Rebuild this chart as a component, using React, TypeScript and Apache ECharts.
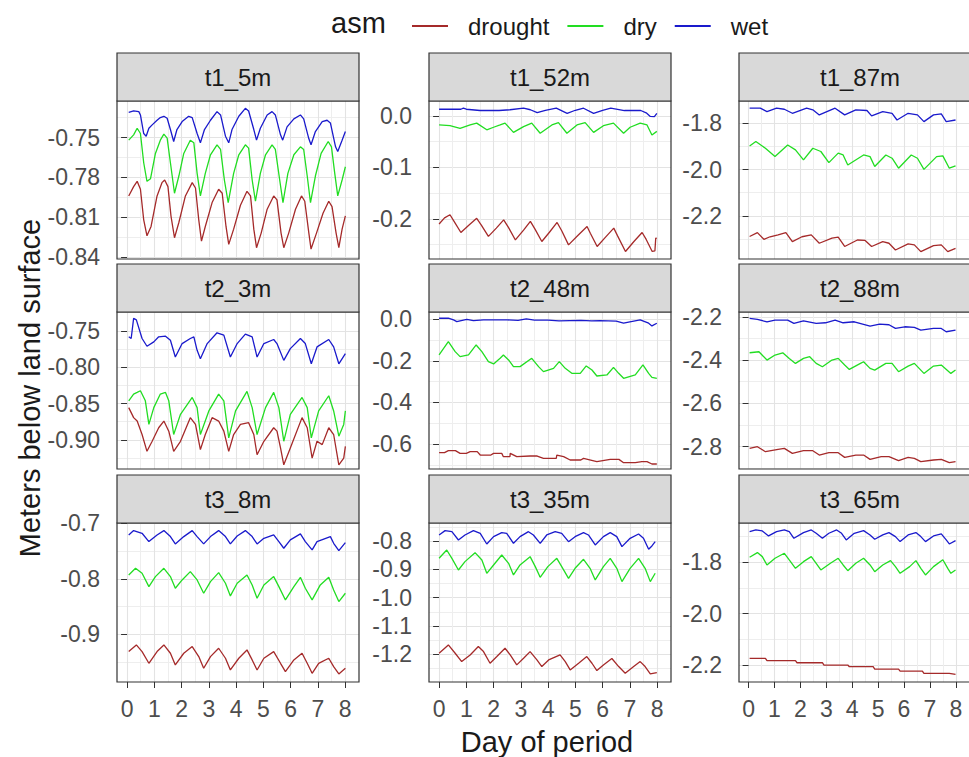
import { useEffect, useRef } from "react";
import * as echarts from "echarts";

// ---------- data ----------
const PANELS = ["t1_5m", "t1_52m", "t1_87m", "t2_3m", "t2_48m", "t2_88m", "t3_8m", "t3_35m", "t3_65m"];
const GROUPS = ["drought", "dry", "wet"];
const GROUP_COLORS = ["#a52a2a", "#22dd22", "#1a1acc"];

const DAY_TICKS = [0, 1, 2, 3, 4, 5, 6, 7, 8];
const DAY_MINOR = [0.5, 1.5, 2.5, 3.5, 4.5, 5.5, 6.5, 7.5];
const X_MIN = -0.37;
const X_MAX = 8.51;

const Y_MIN = [-0.8415, -0.278, -2.386, -0.94, -0.72, -2.903, -0.986, -1.298, -2.266];
const Y_MAX = [-0.7225, 0.029, -1.704, -0.7242, 0.035, -2.178, -0.6995, -0.7365, -1.647];
const Y_TICKS = [
  [-0.84, -0.81, -0.78, -0.75],
  [-0.2, -0.1, 0],
  [-2.2, -2.0, -1.8],
  [-0.9, -0.85, -0.8, -0.75],
  [-0.6, -0.4, -0.2, 0],
  [-2.8, -2.6, -2.4, -2.2],
  [-0.9, -0.8, -0.7],
  [-1.2, -1.1, -1.0, -0.9, -0.8],
  [-2.2, -2.0, -1.8],
];
const Y_MINOR = [
  [-0.825, -0.795, -0.765, -0.735],
  [-0.25, -0.15, -0.05],
  [-2.3, -2.1, -1.9],
  [-0.925, -0.875, -0.825, -0.775, -0.725],
  [-0.7, -0.5, -0.3, -0.1],
  [-2.9, -2.7, -2.5, -2.3],
  [-0.95, -0.85, -0.75],
  [-1.25, -1.15, -1.05, -0.95, -0.85, -0.75],
  [-2.1, -1.9, -1.7],
];
const Y_DEC = [2, 1, 1, 2, 1, 1, 1, 1, 1];

// t1_5m
const t1_5m_drought = [[0.06,-0.794],[0.24,-0.787],[0.37,-0.783],[0.49,-0.789],[0.61,-0.812],[0.73,-0.824],[0.88,-0.817],[1.10,-0.794],[1.28,-0.784],[1.38,-0.782],[1.50,-0.787],[1.61,-0.809],[1.74,-0.8255],[1.90,-0.814],[2.14,-0.794],[2.39,-0.784],[2.51,-0.788],[2.63,-0.812],[2.73,-0.828],[2.87,-0.817],[3.12,-0.799],[3.36,-0.789],[3.49,-0.792],[3.63,-0.817],[3.73,-0.8305],[3.91,-0.819],[4.16,-0.801],[4.40,-0.7905],[4.53,-0.794],[4.65,-0.819],[4.75,-0.833],[4.92,-0.822],[5.14,-0.804],[5.38,-0.794],[5.50,-0.797],[5.65,-0.822],[5.75,-0.833],[5.93,-0.822],[6.18,-0.804],[6.40,-0.794],[6.52,-0.798],[6.67,-0.822],[6.75,-0.834],[6.95,-0.822],[7.19,-0.807],[7.40,-0.798],[7.52,-0.802],[7.67,-0.822],[7.77,-0.833],[7.89,-0.819],[8.01,-0.809]];
const t1_5m_dry = [[0.06,-0.752],[0.24,-0.748],[0.37,-0.743],[0.49,-0.747],[0.61,-0.769],[0.73,-0.783],[0.86,-0.781],[1.04,-0.762],[1.22,-0.752],[1.35,-0.7475],[1.47,-0.7505],[1.59,-0.769],[1.74,-0.792],[1.90,-0.779],[2.08,-0.762],[2.32,-0.752],[2.45,-0.754],[2.57,-0.777],[2.69,-0.794],[2.87,-0.777],[3.06,-0.763],[3.30,-0.7555],[3.43,-0.759],[3.57,-0.782],[3.71,-0.799],[3.91,-0.777],[4.10,-0.763],[4.34,-0.7555],[4.46,-0.758],[4.59,-0.782],[4.71,-0.798],[4.89,-0.777],[5.08,-0.763],[5.32,-0.7555],[5.44,-0.759],[5.60,-0.782],[5.72,-0.799],[5.90,-0.777],[6.12,-0.763],[6.36,-0.757],[6.48,-0.759],[6.61,-0.779],[6.73,-0.799],[6.91,-0.779],[7.12,-0.762],[7.38,-0.753],[7.50,-0.757],[7.62,-0.777],[7.73,-0.794],[7.89,-0.782],[8.01,-0.772]];
const t1_5m_wet = [[0.06,-0.731],[0.24,-0.730],[0.43,-0.7305],[0.49,-0.733],[0.61,-0.747],[0.70,-0.749],[0.80,-0.743],[0.92,-0.7405],[1.10,-0.737],[1.22,-0.735],[1.35,-0.734],[1.47,-0.7355],[1.59,-0.744],[1.71,-0.753],[1.83,-0.744],[2.02,-0.738],[2.26,-0.734],[2.39,-0.735],[2.57,-0.747],[2.69,-0.754],[2.84,-0.744],[3.06,-0.737],[3.30,-0.7305],[3.43,-0.733],[3.61,-0.749],[3.73,-0.754],[3.85,-0.744],[4.10,-0.734],[4.34,-0.728],[4.46,-0.730],[4.65,-0.744],[4.75,-0.752],[4.89,-0.743],[5.14,-0.733],[5.32,-0.7305],[5.44,-0.733],[5.63,-0.748],[5.71,-0.752],[5.87,-0.742],[6.12,-0.736],[6.36,-0.733],[6.48,-0.736],[6.67,-0.751],[6.75,-0.7555],[6.91,-0.7455],[7.16,-0.738],[7.34,-0.737],[7.46,-0.739],[7.65,-0.757],[7.73,-0.7605],[7.89,-0.752],[8.01,-0.7455]];

// t1_52m
const t1_52m_drought = [[0,-0.21],[0.2,-0.198],[0.4,-0.192],[0.55,-0.205],[0.80,-0.2265],[1.1,-0.212],[1.38,-0.199],[1.55,-0.212],[1.81,-0.234],[2.1,-0.218],[2.37,-0.202],[2.55,-0.217],[2.80,-0.241],[3.1,-0.222],[3.35,-0.205],[3.52,-0.22],[3.77,-0.244],[4.05,-0.226],[4.33,-0.207],[4.5,-0.223],[4.75,-0.2505],[5.1,-0.232],[5.43,-0.215],[5.55,-0.228],[5.80,-0.2537],[6.1,-0.236],[6.41,-0.218],[6.55,-0.233],[6.84,-0.2634],[7.15,-0.244],[7.45,-0.2265],[7.6,-0.24],[7.82,-0.2634],[7.92,-0.262],[7.95,-0.2375],[7.99,-0.238]];
const t1_52m_dry = [[0,-0.0175],[0.40,-0.019],[0.77,-0.024],[1.14,-0.0175],[1.38,-0.014],[1.75,-0.027],[2.0,-0.022],[2.24,-0.0175],[2.42,-0.014],[2.73,-0.032],[3.10,-0.0207],[3.40,-0.014],[3.71,-0.0337],[4.14,-0.0175],[4.38,-0.013],[4.69,-0.0337],[5.06,-0.0175],[5.36,-0.013],[5.67,-0.032],[6.03,-0.019],[6.40,-0.014],[6.77,-0.0337],[7.01,-0.022],[7.38,-0.014],[7.63,-0.0175],[7.81,-0.037],[7.99,-0.030]];
const t1_52m_wet = [[0,0.013],[0.8,0.013],[0.89,0.015],[1.0,0.013],[1.5,0.0105],[2.2,0.0105],[2.6,0.012],[3.1,0.015],[3.35,0.012],[3.6,0.0065],[3.9,0.011],[4.3,0.015],[4.7,0.005],[5.0,0.011],[5.3,0.015],[5.67,0.005],[6.0,0.011],[6.3,0.015],[6.8,0.0105],[7.4,0.0105],[7.6,0.006],[7.75,-0.001],[7.9,-0.0015],[7.99,0.005]];

// t1_87m
const t1_87m_drought = [[0.04,-2.289],[0.34,-2.272],[0.59,-2.301],[0.83,-2.29],[1.14,-2.282],[1.44,-2.272],[1.69,-2.311],[2.06,-2.29],[2.42,-2.282],[2.73,-2.318],[3.22,-2.296],[3.46,-2.292],[3.71,-2.332],[4.20,-2.304],[4.50,-2.306],[4.75,-2.332],[5.18,-2.311],[5.42,-2.318],[5.67,-2.347],[6.16,-2.321],[6.40,-2.325],[6.65,-2.354],[7.14,-2.328],[7.44,-2.325],[7.69,-2.354],[7.99,-2.34]];
const t1_87m_dry = [[0.04,-1.898],[0.28,-1.879],[0.65,-1.908],[1.02,-1.944],[1.51,-1.894],[1.81,-1.915],[2.12,-1.958],[2.48,-1.908],[2.79,-1.922],[3.10,-1.97],[3.46,-1.929],[3.65,-1.937],[3.83,-1.98],[4.44,-1.937],[4.69,-1.944],[4.87,-1.987],[5.30,-1.937],[5.54,-1.951],[5.79,-1.994],[6.28,-1.937],[6.52,-1.951],[6.77,-1.999],[7.26,-1.944],[7.50,-1.941],[7.75,-1.994],[7.99,-1.984]];
const t1_87m_wet = [[0.04,-1.735],[0.45,-1.735],[0.71,-1.7496],[1.08,-1.735],[1.38,-1.7396],[1.69,-1.757],[2.24,-1.735],[2.48,-1.742],[2.73,-1.764],[3.34,-1.735],[3.71,-1.764],[4.14,-1.742],[4.57,-1.745],[4.75,-1.768],[5.18,-1.75],[5.54,-1.757],[5.73,-1.786],[6.16,-1.757],[6.52,-1.764],[6.77,-1.793],[7.14,-1.764],[7.44,-1.760],[7.63,-1.793],[7.99,-1.786]];

// t2_3m
const t2_3m_drought = [[0.06,-0.8556],[0.24,-0.8694],[0.37,-0.8741],[0.55,-0.8926],[0.73,-0.9157],[0.92,-0.9019],[1.16,-0.8833],[1.35,-0.8741],[1.53,-0.888],[1.71,-0.9157],[1.96,-0.9019],[2.32,-0.8694],[2.51,-0.8787],[2.69,-0.9134],[2.87,-0.8926],[3.12,-0.8694],[3.36,-0.8741],[3.55,-0.888],[3.73,-0.9157],[3.91,-0.8926],[4.16,-0.8787],[4.46,-0.8764],[4.65,-0.8926],[4.77,-0.9204],[5.02,-0.9019],[5.38,-0.8833],[5.50,-0.888],[5.63,-0.9111],[5.75,-0.9343],[5.99,-0.9111],[6.42,-0.8694],[6.61,-0.8833],[6.79,-0.925],[6.97,-0.9019],[7.16,-0.9065],[7.40,-0.8833],[7.58,-0.8926],[7.77,-0.9343],[7.95,-0.925],[8.01,-0.9088]];
const t2_3m_dry = [[0.06,-0.8463],[0.24,-0.837],[0.37,-0.8347],[0.49,-0.8324],[0.67,-0.8463],[0.80,-0.8787],[0.98,-0.8556],[1.22,-0.837],[1.41,-0.8347],[1.53,-0.8463],[1.71,-0.8926],[1.96,-0.8648],[2.39,-0.8417],[2.57,-0.8556],[2.69,-0.8926],[3.00,-0.8602],[3.36,-0.837],[3.55,-0.8463],[3.73,-0.8972],[3.98,-0.8602],[4.40,-0.8333],[4.59,-0.8556],[4.77,-0.8926],[5.08,-0.8556],[5.38,-0.8347],[5.57,-0.8556],[5.75,-0.9019],[5.99,-0.8648],[6.42,-0.8417],[6.61,-0.8556],[6.76,-0.8972],[7.03,-0.8602],[7.40,-0.8393],[7.58,-0.8602],[7.77,-0.8949],[7.95,-0.8787],[8.01,-0.8602]];
const t2_3m_wet = [[0.06,-0.7583],[0.15,-0.7606],[0.24,-0.733],[0.34,-0.735],[0.55,-0.7606],[0.73,-0.7713],[0.98,-0.7653],[1.16,-0.7583],[1.41,-0.7574],[1.59,-0.763],[1.77,-0.7861],[2.02,-0.7676],[2.32,-0.7606],[2.45,-0.7583],[2.57,-0.7769],[2.69,-0.7884],[2.94,-0.7676],[3.30,-0.7528],[3.55,-0.756],[3.79,-0.7861],[4.04,-0.7676],[4.34,-0.7546],[4.59,-0.7583],[4.77,-0.7861],[5.02,-0.7676],[5.38,-0.762],[5.50,-0.7676],[5.75,-0.7907],[5.99,-0.7745],[6.36,-0.7606],[6.54,-0.7676],[6.76,-0.7954],[6.97,-0.7722],[7.40,-0.762],[7.58,-0.7722],[7.77,-0.7954],[8.01,-0.7815]];

// t2_48m
const t2_48m_drought = [[0,-0.6415],[0.2,-0.6415],[0.34,-0.6319],[0.6,-0.6319],[0.77,-0.6447],[1.0,-0.6447],[1.14,-0.6367],[1.4,-0.6367],[1.51,-0.6528],[1.9,-0.6528],[2.0,-0.6447],[2.3,-0.6447],[2.36,-0.6608],[2.6,-0.6608],[2.61,-0.6447],[2.85,-0.6608],[3.34,-0.6576],[3.6,-0.6576],[3.83,-0.6688],[4.3,-0.6688],[4.32,-0.6528],[4.57,-0.6608],[4.81,-0.6768],[5.2,-0.6768],[5.30,-0.6688],[5.79,-0.6848],[6.28,-0.6736],[6.6,-0.6736],[6.77,-0.6897],[7.2,-0.6897],[7.44,-0.6848],[7.63,-0.6848],[7.81,-0.696],[7.99,-0.696]];
const t2_48m_dry = [[0,-0.1716],[0.34,-0.1075],[0.59,-0.1556],[0.77,-0.1796],[1.08,-0.1716],[1.36,-0.1235],[1.57,-0.1556],[1.81,-0.2037],[2.0,-0.2149],[2.24,-0.1877],[2.36,-0.1716],[2.55,-0.1957],[2.73,-0.2277],[2.97,-0.2277],[3.40,-0.1877],[3.65,-0.2277],[3.83,-0.2518],[4.20,-0.2358],[4.41,-0.2037],[4.63,-0.2358],[4.87,-0.2598],[5.18,-0.2598],[5.40,-0.2245],[5.61,-0.2438],[5.79,-0.2727],[6.16,-0.2678],[6.40,-0.231],[6.59,-0.2598],[6.77,-0.2839],[7.20,-0.2678],[7.48,-0.2197],[7.69,-0.2598],[7.81,-0.279],[7.99,-0.2839]];
const t2_48m_wet = [[0,0.005],[0.34,0.005],[0.53,-0.003],[0.65,-0.011],[0.85,-0.005],[1.02,0.0],[1.26,-0.006],[1.63,-0.003],[2.2,-0.003],[2.5,-0.003],[2.9,-0.005],[3.2,0.002],[3.5,-0.004],[4.0,-0.004],[4.4,-0.008],[4.8,-0.006],[5.2,-0.005],[5.6,-0.008],[5.9,-0.006],[6.5,-0.009],[6.77,-0.019],[7.0,-0.012],[7.38,-0.003],[7.69,-0.019],[7.81,-0.032],[7.99,-0.019]];

// t2_88m
const t2_88m_drought = [[0.04,-2.8077],[0.34,-2.8],[0.65,-2.8231],[1.14,-2.8123],[1.38,-2.8077],[1.69,-2.8308],[2.12,-2.8185],[2.48,-2.8185],[2.73,-2.8385],[3.10,-2.8277],[3.46,-2.8277],[3.71,-2.8492],[4.14,-2.8385],[4.44,-2.8385],[4.69,-2.8585],[5.12,-2.8462],[5.42,-2.8462],[5.79,-2.8646],[6.16,-2.8492],[6.40,-2.8538],[6.65,-2.8692],[7.14,-2.8615],[7.44,-2.8585],[7.75,-2.8738],[7.99,-2.8692]];
const t2_88m_dry = [[0.04,-2.3662],[0.40,-2.3615],[0.71,-2.4],[1.02,-2.3769],[1.32,-2.3662],[1.57,-2.3923],[1.81,-2.4154],[2.12,-2.3923],[2.36,-2.3846],[2.61,-2.4154],[2.85,-2.4308],[3.22,-2.4],[3.46,-2.3923],[3.71,-2.4231],[3.89,-2.4431],[4.32,-2.4154],[4.44,-2.4077],[4.69,-2.4385],[4.87,-2.4462],[5.30,-2.4154],[5.54,-2.4154],[5.79,-2.4538],[6.16,-2.4277],[6.40,-2.4154],[6.77,-2.4615],[7.14,-2.4277],[7.44,-2.4231],[7.81,-2.4615],[7.99,-2.4462]];
const t2_88m_wet = [[0.04,-2.2077],[0.34,-2.2123],[0.71,-2.2231],[1.02,-2.2154],[1.51,-2.2154],[1.75,-2.2308],[2.12,-2.2185],[2.61,-2.2308],[2.97,-2.2277],[3.34,-2.2154],[3.65,-2.2277],[4.08,-2.2231],[4.69,-2.2431],[5.06,-2.2338],[5.42,-2.2369],[5.67,-2.2538],[6.03,-2.2462],[6.40,-2.2492],[6.65,-2.2615],[7.14,-2.2538],[7.44,-2.2538],[7.63,-2.2692],[7.99,-2.2615]];

// t3_8m
const t3_8m_drought = [[0.06,-0.9312],[0.34,-0.9192],[0.55,-0.9312],[0.80,-0.9523],[1.10,-0.9312],[1.35,-0.9192],[1.59,-0.9342],[1.77,-0.9553],[2.08,-0.9342],[2.39,-0.9222],[2.63,-0.9402],[2.81,-0.9613],[3.06,-0.9402],[3.36,-0.9252],[3.61,-0.9432],[3.79,-0.9643],[4.10,-0.9432],[4.40,-0.9282],[4.59,-0.9462],[4.77,-0.9643],[5.02,-0.9432],[5.38,-0.9312],[5.63,-0.9523],[5.81,-0.9673],[6.12,-0.9462],[6.42,-0.9342],[6.61,-0.9523],[6.79,-0.9703],[7.03,-0.9523],[7.40,-0.9432],[7.58,-0.9583],[7.77,-0.9715],[8.01,-0.9613]];
const t3_8m_dry = [[0.06,-0.7931],[0.31,-0.7811],[0.55,-0.7901],[0.80,-0.8141],[1.04,-0.7961],[1.35,-0.7811],[1.59,-0.7961],[1.77,-0.8171],[2.02,-0.8021],[2.32,-0.7871],[2.57,-0.8021],[2.81,-0.8261],[3.06,-0.8051],[3.36,-0.7889],[3.61,-0.8081],[3.79,-0.8309],[4.04,-0.8081],[4.40,-0.7931],[4.59,-0.8111],[4.77,-0.8351],[5.02,-0.8111],[5.38,-0.7961],[5.57,-0.8141],[5.81,-0.8381],[6.12,-0.8141],[6.36,-0.7973],[6.54,-0.8171],[6.79,-0.8381],[7.09,-0.8111],[7.40,-0.7973],[7.58,-0.8201],[7.77,-0.8411],[8.01,-0.8261]];
const t3_8m_wet = [[0.06,-0.721],[0.24,-0.7132],[0.55,-0.718],[0.80,-0.733],[1.10,-0.721],[1.35,-0.7132],[1.59,-0.724],[1.77,-0.7372],[2.08,-0.724],[2.39,-0.7132],[2.57,-0.724],[2.81,-0.7372],[3.06,-0.724],[3.36,-0.7132],[3.61,-0.724],[3.79,-0.7372],[4.04,-0.723],[4.34,-0.7132],[4.59,-0.724],[4.77,-0.7372],[5.02,-0.727],[5.38,-0.721],[5.57,-0.733],[5.75,-0.745],[5.99,-0.730],[6.36,-0.7192],[6.54,-0.733],[6.79,-0.748],[6.97,-0.733],[7.46,-0.724],[7.58,-0.736],[7.77,-0.7492],[8.01,-0.7348]];

// t3_35m
const t3_35m_drought = [[0,-1.1965],[0.34,-1.1671],[0.59,-1.1965],[0.83,-1.2259],[1.14,-1.2024],[1.44,-1.1729],[1.63,-1.1906],[1.87,-1.2318],[2.12,-1.2082],[2.42,-1.1788],[2.61,-1.2024],[2.85,-1.2376],[3.10,-1.2141],[3.34,-1.1906],[3.59,-1.22],[3.77,-1.2435],[4.02,-1.22],[4.44,-1.2024],[4.63,-1.2259],[4.81,-1.2553],[5.12,-1.2318],[5.42,-1.2082],[5.61,-1.2318],[5.79,-1.2576],[6.03,-1.2376],[6.34,-1.215],[6.59,-1.2435],[6.83,-1.2671],[7.14,-1.2435],[7.38,-1.2259],[7.56,-1.2435],[7.75,-1.2694],[7.99,-1.2647]];
const t3_35m_dry = [[0,-0.8612],[0.28,-0.8318],[0.47,-0.8612],[0.71,-0.9024],[0.95,-0.8729],[1.32,-0.8412],[1.57,-0.8671],[1.75,-0.9141],[2.0,-0.8847],[2.30,-0.8494],[2.55,-0.8788],[2.73,-0.92],[2.97,-0.8847],[3.34,-0.8553],[3.53,-0.8906],[3.71,-0.9282],[3.99,-0.8906],[4.32,-0.8612],[4.50,-0.8906],[4.75,-0.9318],[4.99,-0.8965],[5.30,-0.8647],[5.54,-0.8965],[5.73,-0.9376],[6.03,-0.8906],[6.28,-0.8612],[6.52,-0.8965],[6.71,-0.9435],[7.01,-0.8965],[7.32,-0.8612],[7.56,-0.8965],[7.75,-0.9435],[7.93,-0.9141]];
const t3_35m_wet = [[0,-0.7788],[0.22,-0.7635],[0.47,-0.7671],[0.71,-0.7965],[0.95,-0.7788],[1.26,-0.7635],[1.51,-0.7729],[1.75,-0.8106],[2.0,-0.7847],[2.30,-0.7706],[2.48,-0.7729],[2.73,-0.8082],[2.97,-0.7847],[3.28,-0.7671],[3.46,-0.7788],[3.71,-0.8082],[3.95,-0.7788],[4.26,-0.7671],[4.50,-0.7729],[4.75,-0.8024],[4.99,-0.7847],[5.30,-0.7706],[5.48,-0.7788],[5.73,-0.8141],[6.03,-0.7847],[6.28,-0.7706],[6.52,-0.7847],[6.71,-0.82],[7.01,-0.7906],[7.32,-0.7753],[7.50,-0.7906],[7.69,-0.8294],[7.81,-0.8176],[7.93,-0.8024]];

// t3_65m
const t3_65m_drought = [[0.04,-2.174],[0.65,-2.174],[0.71,-2.183],[1.81,-2.183],[1.87,-2.191],[2.85,-2.191],[2.91,-2.2],[3.83,-2.2],[3.89,-2.2065],[4.81,-2.2065],[4.87,-2.2156],[5.79,-2.2156],[5.85,-2.2234],[6.71,-2.2234],[6.77,-2.2325],[7.75,-2.2325],[7.99,-2.2364]];
const t3_65m_dry = [[0.04,-1.7805],[0.34,-1.7623],[0.53,-1.7779],[0.71,-1.8104],[1.02,-1.7844],[1.38,-1.7649],[1.57,-1.7909],[1.81,-1.8234],[2.12,-1.7974],[2.42,-1.7779],[2.61,-1.8039],[2.79,-1.8299],[3.16,-1.8039],[3.46,-1.7844],[3.65,-1.8104],[3.83,-1.8325],[4.14,-1.8039],[4.44,-1.7844],[4.69,-1.8104],[4.87,-1.8364],[5.18,-1.8104],[5.48,-1.7935],[5.67,-1.8169],[5.85,-1.8429],[6.22,-1.8169],[6.46,-1.7935],[6.65,-1.8234],[6.83,-1.8494],[7.14,-1.8169],[7.50,-1.79],[7.69,-1.8234],[7.81,-1.8429],[7.99,-1.83]];
const t3_65m_wet = [[0.04,-1.6805],[0.28,-1.674],[0.53,-1.6779],[0.77,-1.6974],[1.08,-1.6805],[1.38,-1.674],[1.57,-1.6805],[1.75,-1.7065],[2.12,-1.6844],[2.42,-1.674],[2.61,-1.687],[2.85,-1.7065],[3.10,-1.687],[3.40,-1.674],[3.59,-1.687],[3.77,-1.713],[4.08,-1.687],[4.44,-1.6766],[4.69,-1.6935],[4.87,-1.7104],[5.18,-1.6935],[5.42,-1.6844],[5.67,-1.70],[5.85,-1.7195],[6.16,-1.6935],[6.46,-1.6844],[6.65,-1.70],[6.83,-1.7195],[7.14,-1.6974],[7.44,-1.6896],[7.63,-1.713],[7.75,-1.7286],[7.99,-1.7156]];

const PANEL_DATA = [
  [t1_5m_drought, t1_5m_dry, t1_5m_wet],
  [t1_52m_drought, t1_52m_dry, t1_52m_wet],
  [t1_87m_drought, t1_87m_dry, t1_87m_wet],
  [t2_3m_drought, t2_3m_dry, t2_3m_wet],
  [t2_48m_drought, t2_48m_dry, t2_48m_wet],
  [t2_88m_drought, t2_88m_dry, t2_88m_wet],
  [t3_8m_drought, t3_8m_dry, t3_8m_wet],
  [t3_35m_drought, t3_35m_dry, t3_35m_wet],
  [t3_65m_drought, t3_65m_dry, t3_65m_wet],
];

// ---------- layout ----------
const FONT = "'Liberation Sans', Arial, Helvetica, sans-serif";
const COL_LEFT = [117, 429, 739];
const PANEL_W = 242;
const ROW_TOP = [101, 312, 523];
const ROW_H = [158, 157, 159];
const STRIP_H = 48;

function buildOption() {
  const grid: any[] = [];
  const xAxis: any[] = [];
  const yAxis: any[] = [];
  const series: any[] = [];
  const graphic: any[] = [];

  PANELS.forEach((name, i) => {
    const row = Math.floor(i / 3);
    const col = i % 3;
    const left = COL_LEFT[col];
    const top = ROW_TOP[row];
    const h = ROW_H[row];
    const showX = row === 2;
    grid.push({ left, top, width: PANEL_W, height: h, containLabel: false });

    xAxis.push({
      type: "value", gridIndex: i, min: X_MIN, max: X_MAX,
      axisLine: { show: false },
      axisTick: { show: showX, customValues: DAY_TICKS, length: 6, lineStyle: { color: "#333", width: 1 } },
      axisLabel: { show: showX, customValues: DAY_TICKS, margin: 15, fontSize: 23, color: "#4d4d4d", fontFamily: FONT },
      splitLine: { show: true, lineStyle: { color: "#e3e3e3", width: 1.1 } },
    });
    xAxis.push({
      type: "value", gridIndex: i, min: X_MIN, max: X_MAX,
      axisLine: { show: false },
      axisTick: { show: false, customValues: DAY_MINOR },
      axisLabel: { show: false },
      splitLine: { show: true, lineStyle: { color: "#eeeeee", width: 1 } },
    });
    yAxis.push({
      type: "value", gridIndex: i, min: Y_MIN[i], max: Y_MAX[i],
      axisLine: { show: false },
      axisTick: { show: true, customValues: Y_TICKS[i], length: 6, lineStyle: { color: "#333", width: 1 } },
      axisLabel: {
        show: true, customValues: Y_TICKS[i], margin: 17, fontSize: 23, color: "#4d4d4d", fontFamily: FONT,
        formatter: (v: number) => Number(v).toFixed(Y_DEC[i]),
      },
      splitLine: { show: true, lineStyle: { color: "#e3e3e3", width: 1.1 } },
    });
    yAxis.push({
      type: "value", gridIndex: i, min: Y_MIN[i], max: Y_MAX[i],
      axisLine: { show: false },
      axisTick: { show: false, customValues: Y_MINOR[i] },
      axisLabel: { show: false },
      splitLine: { show: true, lineStyle: { color: "#eeeeee", width: 1 } },
    });

    PANEL_DATA[i].forEach((data, g) => {
      series.push({
        name: GROUPS[g], type: "line", xAxisIndex: 2 * i, yAxisIndex: 2 * i,
        data, showSymbol: false, symbol: "none", silent: true,
        lineStyle: { color: GROUP_COLORS[g], width: 1.3 },
        itemStyle: { color: GROUP_COLORS[g] },
        z: 3 + g,
      });
    });

    graphic.push({
      type: "rect", silent: true, z: 50,
      shape: { x: left, y: top, width: PANEL_W, height: h },
      style: { fill: "none", stroke: "#333333", lineWidth: 1.2 },
    });
    graphic.push({
      type: "rect", silent: true, z: 50,
      shape: { x: left, y: top - STRIP_H, width: PANEL_W, height: STRIP_H },
      style: { fill: "#d9d9d9", stroke: "#333333", lineWidth: 1.2 },
    });
    graphic.push({
      type: "text", silent: true, z: 51,
      x: left + PANEL_W / 2, y: top - STRIP_H / 2,
      style: { text: name, fontSize: 24, fontFamily: FONT, fill: "#1a1a1a", align: "center", verticalAlign: "middle" },
    });
  });

  graphic.push({
    type: "text", silent: true, z: 51, x: 331, y: 23,
    style: { text: "asm", fontSize: 29, fontFamily: FONT, fill: "#1a1a1a", align: "left", verticalAlign: "middle" },
  });
  graphic.push({
    type: "text", silent: true, z: 51, x: 547, y: 742,
    style: { text: "Day of period", fontSize: 29, fontFamily: FONT, fill: "#1a1a1a", align: "center", verticalAlign: "middle" },
  });
  graphic.push({
    type: "text", silent: true, z: 51, x: 30, y: 388, rotation: Math.PI / 2,
    style: { text: "Meters below land surface", fontSize: 29, fontFamily: FONT, fill: "#1a1a1a", align: "center", verticalAlign: "middle" },
  });

  return {
    animation: false,
    backgroundColor: "#ffffff",
    legend: {
      data: GROUPS, left: 407, top: 9, icon: "rect", itemWidth: 36, itemHeight: 2, itemGap: 18,
      selectedMode: false,
      textStyle: { fontSize: 24, fontFamily: FONT, color: "#1a1a1a", padding: [0, 0, 0, 15] },
    },
    grid, xAxis, yAxis, series, graphic,
  };
}

export default function App() {
  const ref = useRef<HTMLDivElement>(null);
  useEffect(() => {
    if (!ref.current) return;
    const chart = echarts.init(ref.current, null, { renderer: "svg" });
    chart.setOption(buildOption() as any);
    return () => chart.dispose();
  }, []);
  return (
    <div
      ref={ref}
      style={{ position: "fixed", left: 0, top: 0, width: 969, height: 757, background: "#fff" }}
    />
  );
}
